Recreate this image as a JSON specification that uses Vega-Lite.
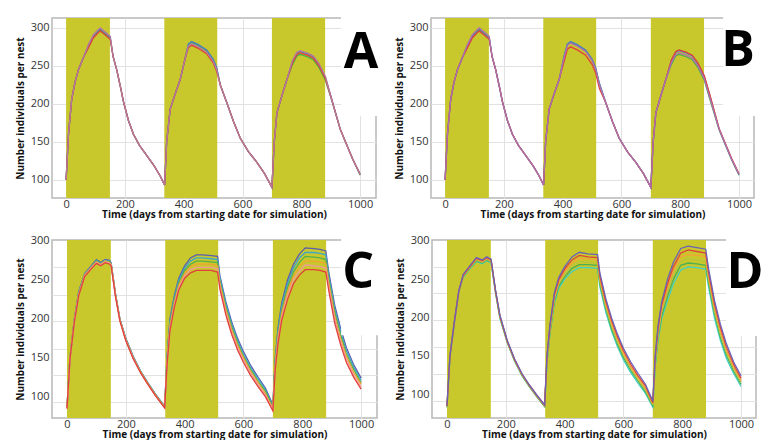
{
"$schema": "https://vega.github.io/schema/vega-lite/v6.json",
"padding": {"left": 14, "top": 15, "right": 0, "bottom": 0},
"config": {
 "font": "Open Sans",
 "view": {"stroke": "#b8b8b8", "strokeWidth": 1.5},
 "axis": {"grid": true, "gridColor": "#e2e2e2", "gridWidth": 1, "ticks": false, "domain": false, "labelFontSize": 11, "labelColor": "#333333", "titleFontSize": 10, "titleFontWeight": "bold", "titleColor": "#111111", "labelPadding": 3},
 "axisX": {"titlePadding": 0, "labelPadding": 0, "format": "d"},
 "axisY": {"titlePadding": 5}
},
"datasets": {
 "shade": [{"start": 0, "end": 149}, {"start": 334, "end": 514}, {"start": 700, "end": 881}],
 "A": [
  {"x":0,"g":100,"b":100,"r":100,"m":100},{"x":8,"g":160,"b":160,"r":160,"m":160},{"x":19,"g":206,"b":206,"r":206,"m":206},{"x":30,"g":228,"b":228,"r":228,"m":228},{"x":42,"g":245,"b":245,"r":245,"m":245},{"x":60,"g":262,"b":262,"r":262,"m":262},
  {"x":76,"g":275,"b":277,"r":274,"m":278},{"x":93,"g":288,"b":290,"r":287,"m":291},{"x":110,"g":295,"b":297,"r":294,"m":298},{"x":116,"g":297,"b":299,"r":296,"m":300},{"x":135,"g":291,"b":293,"r":290,"m":294},{"x":150,"g":286,"b":288,"r":285,"m":289},
  {"x":160,"g":262,"b":262,"r":262,"m":262},{"x":172,"g":245,"b":245,"r":245,"m":245},{"x":185,"g":222,"b":222,"r":222,"m":222},{"x":195,"g":203,"b":203,"r":203,"m":203},{"x":212,"g":178,"b":178,"r":178,"m":178},{"x":229,"g":160,"b":160,"r":160,"m":160},{"x":250,"g":145,"b":145,"r":145,"m":145},{"x":274,"g":132,"b":132,"r":132,"m":132},{"x":300,"g":118,"b":118,"r":118,"m":118},{"x":320,"g":105,"b":105,"r":105,"m":105},{"x":335,"g":93,"b":93,"r":93,"m":93},
  {"x":342,"g":150,"b":150,"r":150,"m":150},{"x":354,"g":193,"b":193,"r":193,"m":193},{"x":370,"g":212,"b":212,"r":212,"m":212},{"x":388,"g":232,"b":232,"r":232,"m":232},{"x":405,"g":260,"b":260,"r":260,"m":260},
  {"x":416,"g":278,"b":279,"r":274,"m":276},{"x":427,"g":281,"b":282,"r":277,"m":279},{"x":450,"g":277,"b":278,"r":273,"m":275},{"x":478,"g":270,"b":271,"r":266,"m":268},{"x":500,"g":258,"b":259,"r":254,"m":256},{"x":512,"g":247,"b":248,"r":243,"m":245},
  {"x":525,"g":224,"b":224,"r":224,"m":224},{"x":546,"g":202,"b":202,"r":202,"m":202},{"x":570,"g":176,"b":176,"r":176,"m":176},{"x":592,"g":155,"b":155,"r":155,"m":155},{"x":620,"g":137,"b":137,"r":137,"m":137},{"x":649,"g":123,"b":123,"r":123,"m":123},{"x":675,"g":108,"b":108,"r":108,"m":108},{"x":700,"g":90,"b":90,"r":90,"m":90},
  {"x":708,"g":150,"b":150,"r":150,"m":150},{"x":717,"g":188,"b":188,"r":188,"m":188},{"x":735,"g":212,"b":212,"r":212,"m":212},{"x":751,"g":232,"b":232,"r":232,"m":232},
  {"x":770,"g":252,"b":256,"r":254,"m":257},{"x":785,"g":263,"b":267,"r":265,"m":268},{"x":796,"g":265,"b":269,"r":267,"m":270},{"x":820,"g":262,"b":266,"r":264,"m":267},{"x":841,"g":258,"b":262,"r":260,"m":263},{"x":860,"g":248,"b":252,"r":250,"m":253},{"x":882,"g":231,"b":235,"r":233,"m":236},
  {"x":900,"g":209,"b":211,"r":210,"m":210},{"x":932,"g":167,"b":167,"r":167,"m":167},{"x":950,"g":150,"b":150,"r":150,"m":150},{"x":975,"g":127,"b":127,"r":127,"m":127},{"x":1000,"g":106,"b":108,"r":107,"m":107}
 ],
 "B": [
  {"x":0,"g":100,"b":100,"r":100,"m":100},{"x":8,"g":160,"b":160,"r":160,"m":160},{"x":19,"g":206,"b":206,"r":206,"m":206},{"x":30,"g":228,"b":228,"r":228,"m":228},{"x":42,"g":245,"b":245,"r":245,"m":245},{"x":60,"g":262,"b":262,"r":262,"m":262},
  {"x":76,"g":277,"b":275,"r":274,"m":278},{"x":93,"g":290,"b":288,"r":287,"m":291},{"x":110,"g":297,"b":295,"r":294,"m":298},{"x":116,"g":299,"b":297,"r":296,"m":300},{"x":135,"g":293,"b":291,"r":290,"m":294},{"x":150,"g":288,"b":286,"r":285,"m":289},
  {"x":160,"g":262,"b":262,"r":262,"m":262},{"x":172,"g":245,"b":245,"r":245,"m":245},{"x":185,"g":222,"b":222,"r":222,"m":222},{"x":195,"g":203,"b":203,"r":203,"m":203},{"x":212,"g":178,"b":178,"r":178,"m":178},{"x":229,"g":160,"b":160,"r":160,"m":160},{"x":250,"g":145,"b":145,"r":145,"m":145},{"x":274,"g":132,"b":132,"r":132,"m":132},{"x":300,"g":118,"b":118,"r":118,"m":118},{"x":320,"g":105,"b":105,"r":105,"m":105},{"x":335,"g":93,"b":93,"r":93,"m":93},
  {"x":342,"g":150,"b":150,"r":150,"m":150},{"x":354,"g":193,"b":193,"r":193,"m":193},{"x":370,"g":212,"b":212,"r":212,"m":212},{"x":388,"g":232,"b":232,"r":232,"m":232},{"x":405,"g":262,"b":263,"r":256,"m":261},
  {"x":416,"g":278,"b":279,"r":272,"m":277},{"x":427,"g":281,"b":282,"r":275,"m":280},{"x":450,"g":277,"b":278,"r":271,"m":276},{"x":478,"g":270,"b":271,"r":264,"m":269},{"x":500,"g":258,"b":259,"r":252,"m":257},{"x":512,"g":247,"b":248,"r":241,"m":246},
  {"x":525,"g":226,"b":227,"r":220,"m":225},{"x":546,"g":202,"b":202,"r":202,"m":202},{"x":570,"g":176,"b":176,"r":176,"m":176},{"x":592,"g":155,"b":155,"r":155,"m":155},{"x":620,"g":137,"b":137,"r":137,"m":137},{"x":649,"g":123,"b":123,"r":123,"m":123},{"x":675,"g":108,"b":108,"r":108,"m":108},{"x":700,"g":90,"b":90,"r":90,"m":90},
  {"x":708,"g":150,"b":150,"r":150,"m":150},{"x":717,"g":188,"b":188,"r":188,"m":188},{"x":735,"g":212,"b":212,"r":212,"m":212},{"x":751,"g":232,"b":232,"r":232,"m":232},
  {"x":770,"g":252,"b":257,"r":258,"m":254},{"x":785,"g":263,"b":268,"r":269,"m":265},{"x":796,"g":265,"b":270,"r":271,"m":267},{"x":820,"g":262,"b":267,"r":268,"m":264},{"x":841,"g":258,"b":263,"r":264,"m":260},{"x":860,"g":248,"b":253,"r":254,"m":250},{"x":882,"g":231,"b":236,"r":237,"m":233},
  {"x":900,"g":207,"b":212,"r":213,"m":209},{"x":932,"g":166,"b":167,"r":168,"m":167},{"x":950,"g":149,"b":150,"r":151,"m":150},{"x":975,"g":126,"b":127,"r":128,"m":127},{"x":1000,"g":106,"b":107,"r":108,"m":107}
 ],
 "C": [
  {"x":0,"s0":87,"s1":87,"s2":86,"s3":86,"s4":85,"s5":85},{"x":10,"s0":150,"s1":150,"s2":149,"s3":149,"s4":148,"s5":148},{"x":25,"s0":200,"s1":199,"s2":198,"s3":198,"s4":197,"s5":196},{"x":40,"s0":235,"s1":234,"s2":233,"s3":232,"s4":231,"s5":230},{"x":60,"s0":258,"s1":257,"s2":256,"s3":256,"s4":255,"s5":254},{"x":80,"s0":267,"s1":266,"s2":265,"s3":265,"s4":264,"s5":263},{"x":100,"s0":276,"s1":275,"s2":274,"s3":273,"s4":272,"s5":271},{"x":115,"s0":272,"s1":271,"s2":270,"s3":270,"s4":269,"s5":268},{"x":130,"s0":276,"s1":275,"s2":274,"s3":274,"s4":273,"s5":272},{"x":145,"s0":275,"s1":274,"s2":273,"s3":272,"s4":271,"s5":270},{"x":150,"s0":272,"s1":271,"s2":270,"s3":270,"s4":269,"s5":268},
  {"x":165,"s0":232,"s1":231,"s2":230,"s3":230,"s4":229,"s5":228},{"x":180,"s0":200,"s1":199,"s2":199,"s3":198,"s4":198,"s5":197},{"x":200,"s0":175,"s1":174,"s2":174,"s3":173,"s4":173,"s5":172},{"x":225,"s0":152,"s1":151,"s2":151,"s3":150,"s4":150,"s5":149},{"x":250,"s0":133,"s1":133,"s2":132,"s3":132,"s4":131,"s5":131},{"x":275,"s0":118,"s1":118,"s2":117,"s3":117,"s4":116,"s5":116},{"x":300,"s0":104,"s1":104,"s2":103,"s3":103,"s4":102,"s5":102},{"x":332,"s0":88,"s1":88,"s2":87,"s3":87,"s4":86,"s5":86},
  {"x":340,"s0":150,"s1":148,"s2":146,"s3":144,"s4":142,"s5":140},{"x":350,"s0":200,"s1":197,"s2":194,"s3":191,"s4":188,"s5":185},{"x":365,"s0":230,"s1":227,"s2":224,"s3":221,"s4":218,"s5":215},{"x":380,"s0":252,"s1":249,"s2":246,"s3":243,"s4":240,"s5":237},{"x":400,"s0":268,"s1":265,"s2":262,"s3":258,"s4":255,"s5":252},{"x":420,"s0":278,"s1":274,"s2":270,"s3":267,"s4":263,"s5":259},{"x":440,"s0":282,"s1":278,"s2":274,"s3":270,"s4":266,"s5":262},{"x":460,"s0":282,"s1":278,"s2":274,"s3":270,"s4":266,"s5":262},{"x":490,"s0":281,"s1":277,"s2":273,"s3":270,"s4":266,"s5":262},{"x":512,"s0":280,"s1":276,"s2":272,"s3":268,"s4":264,"s5":260},
  {"x":520,"s0":255,"s1":252,"s2":248,"s3":245,"s4":241,"s5":238},{"x":540,"s0":222,"s1":219,"s2":215,"s3":212,"s4":208,"s5":205},{"x":560,"s0":196,"s1":193,"s2":190,"s3":186,"s4":183,"s5":180},{"x":580,"s0":175,"s1":172,"s2":169,"s3":166,"s4":163,"s5":160},{"x":600,"s0":158,"s1":155,"s2":152,"s3":150,"s4":147,"s5":144},{"x":625,"s0":140,"s1":137,"s2":135,"s3":132,"s4":130,"s5":127},{"x":650,"s0":125,"s1":123,"s2":120,"s3":118,"s4":115,"s5":113},{"x":675,"s0":111,"s1":109,"s2":107,"s3":104,"s4":102,"s5":100},{"x":700,"s0":90,"s1":88,"s2":87,"s3":85,"s4":84,"s5":82},
  {"x":708,"s0":150,"s1":147,"s2":144,"s3":141,"s4":138,"s5":135},{"x":718,"s0":190,"s1":186,"s2":182,"s3":178,"s4":174,"s5":170},{"x":730,"s0":220,"s1":216,"s2":211,"s3":207,"s4":202,"s5":198},{"x":750,"s0":250,"s1":245,"s2":240,"s3":235,"s4":230,"s5":225},{"x":770,"s0":270,"s1":265,"s2":260,"s3":255,"s4":250,"s5":245},{"x":790,"s0":283,"s1":278,"s2":272,"s3":267,"s4":261,"s5":256},{"x":810,"s0":291,"s1":285,"s2":280,"s3":274,"s4":269,"s5":263},{"x":840,"s0":290,"s1":285,"s2":279,"s3":274,"s4":268,"s5":263},{"x":860,"s0":289,"s1":284,"s2":278,"s3":273,"s4":267,"s5":262},{"x":880,"s0":287,"s1":282,"s2":276,"s3":271,"s4":265,"s5":260},
  {"x":890,"s0":260,"s1":255,"s2":250,"s3":246,"s4":241,"s5":236},{"x":910,"s0":218,"s1":213,"s2":209,"s3":204,"s4":200,"s5":195},{"x":930,"s0":188,"s1":184,"s2":180,"s3":175,"s4":171,"s5":167},{"x":950,"s0":163,"s1":159,"s2":155,"s3":152,"s4":148,"s5":144},{"x":975,"s0":141,"s1":138,"s2":135,"s3":131,"s4":128,"s5":125},{"x":1000,"s0":124,"s1":121,"s2":118,"s3":116,"s4":113,"s5":110}
 ],
 "D": [
  {"x":0,"s0":85,"s1":85,"s2":84,"s3":84,"s4":83,"s5":83},{"x":10,"s0":150,"s1":150,"s2":149,"s3":149,"s4":148,"s5":148},{"x":25,"s0":195,"s1":194,"s2":194,"s3":193,"s4":193,"s5":192},{"x":40,"s0":235,"s1":234,"s2":234,"s3":233,"s4":233,"s5":232},{"x":55,"s0":256,"s1":255,"s2":254,"s3":254,"s4":253,"s5":252},{"x":75,"s0":266,"s1":265,"s2":264,"s3":264,"s4":263,"s5":262},{"x":100,"s0":278,"s1":277,"s2":276,"s3":275,"s4":274,"s5":273},{"x":120,"s0":275,"s1":274,"s2":273,"s3":272,"s4":271,"s5":270},{"x":135,"s0":279,"s1":278,"s2":277,"s3":276,"s4":275,"s5":274},{"x":150,"s0":276,"s1":275,"s2":274,"s3":273,"s4":272,"s5":271},
  {"x":165,"s0":236,"s1":235,"s2":234,"s3":234,"s4":233,"s5":232},{"x":180,"s0":203,"s1":202,"s2":201,"s3":201,"s4":200,"s5":199},{"x":205,"s0":170,"s1":169,"s2":169,"s3":168,"s4":168,"s5":167},{"x":230,"s0":146,"s1":145,"s2":145,"s3":144,"s4":144,"s5":143},{"x":255,"s0":127,"s1":126,"s2":126,"s3":125,"s4":125,"s5":124},{"x":280,"s0":112,"s1":112,"s2":111,"s3":111,"s4":110,"s5":110},{"x":305,"s0":99,"s1":99,"s2":98,"s3":98,"s4":97,"s5":97},{"x":332,"s0":86,"s1":86,"s2":85,"s3":85,"s4":84,"s5":84},
  {"x":340,"s0":150,"s1":148,"s2":146,"s3":144,"s4":142,"s5":140},{"x":350,"s0":190,"s1":188,"s2":185,"s3":183,"s4":180,"s5":178},{"x":365,"s0":232,"s1":229,"s2":226,"s3":224,"s4":221,"s5":218},{"x":380,"s0":252,"s1":249,"s2":246,"s3":244,"s4":241,"s5":238},{"x":400,"s0":266,"s1":263,"s2":260,"s3":256,"s4":253,"s5":250},{"x":425,"s0":279,"s1":275,"s2":271,"s3":268,"s4":264,"s5":260},{"x":450,"s0":285,"s1":281,"s2":277,"s3":273,"s4":269,"s5":265},{"x":480,"s0":283,"s1":279,"s2":276,"s3":272,"s4":269,"s5":265},{"x":512,"s0":282,"s1":278,"s2":275,"s3":271,"s4":268,"s5":264},
  {"x":520,"s0":258,"s1":254,"s2":251,"s3":247,"s4":244,"s5":240},{"x":540,"s0":225,"s1":221,"s2":218,"s3":214,"s4":211,"s5":207},{"x":560,"s0":199,"s1":196,"s2":192,"s3":189,"s4":185,"s5":182},{"x":580,"s0":178,"s1":175,"s2":172,"s3":168,"s4":165,"s5":162},{"x":600,"s0":160,"s1":157,"s2":154,"s3":151,"s4":148,"s5":145},{"x":625,"s0":142,"s1":139,"s2":136,"s3":134,"s4":131,"s5":128},{"x":650,"s0":127,"s1":124,"s2":122,"s3":119,"s4":117,"s5":114},{"x":675,"s0":113,"s1":111,"s2":108,"s3":106,"s4":103,"s5":101},{"x":700,"s0":91,"s1":89,"s2":88,"s3":86,"s4":85,"s5":83},
  {"x":708,"s0":150,"s1":147,"s2":144,"s3":141,"s4":138,"s5":135},{"x":718,"s0":190,"s1":186,"s2":182,"s3":178,"s4":174,"s5":170},{"x":730,"s0":220,"s1":216,"s2":211,"s3":207,"s4":202,"s5":198},{"x":750,"s0":250,"s1":244,"s2":239,"s3":233,"s4":228,"s5":222},{"x":770,"s0":272,"s1":266,"s2":261,"s3":255,"s4":250,"s5":244},{"x":795,"s0":290,"s1":284,"s2":279,"s3":273,"s4":268,"s5":262},{"x":820,"s0":293,"s1":288,"s2":282,"s3":277,"s4":271,"s5":266},{"x":850,"s0":291,"s1":286,"s2":281,"s3":275,"s4":270,"s5":265},{"x":880,"s0":289,"s1":284,"s2":279,"s3":273,"s4":268,"s5":263},
  {"x":890,"s0":263,"s1":258,"s2":253,"s3":249,"s4":244,"s5":239},{"x":910,"s0":222,"s1":217,"s2":213,"s3":208,"s4":204,"s5":199},{"x":930,"s0":191,"s1":187,"s2":183,"s3":178,"s4":174,"s5":170},{"x":950,"s0":166,"s1":162,"s2":158,"s3":155,"s4":151,"s5":147},{"x":975,"s0":142,"s1":139,"s2":136,"s3":133,"s4":130,"s5":127},{"x":1000,"s0":124,"s1":121,"s2":118,"s3":116,"s4":113,"s5":110}
 ]
},
"resolve": {"scale": {"color": "independent"}},
"spacing": 14,
"vconcat": [
 {"hconcat": [
  {"width": 324, "height": 180,
   "layer": [
    {"data": {"name": "shade"}, "mark": {"type": "rect", "color": "#c8c82c"},
     "encoding": {"x": {"field": "start", "type": "quantitative", "scale": {"domain": [-48, 1054], "nice": false, "zero": false}, "axis": {"values": [0,200,400,600,800,1000], "title": "Time (days from starting date for simulation)"}}, "x2": {"field": "end"}}},
    {"data": {"name": "A"}, "transform": [{"fold": ["g","b","r","m"], "as": ["run","n"]}],
     "mark": {"type": "line", "strokeWidth": 1.3},
     "encoding": {"x": {"field": "x", "type": "quantitative"}, "y": {"field": "n", "type": "quantitative", "scale": {"domain": [76, 313], "nice": false, "zero": false}, "axis": {"orient": "left", "values": [100,150,200,250,300], "title": "Number individuals per nest"}}, "color": {"field": "run", "type": "nominal", "sort": null, "scale": {"domain": ["g","b","r","m"], "range": ["#3cb44b","#4a7fc1","#e0413a","#b9789c"]}, "legend": null}}},
    {"data": {"values": [{}]}, "mark": {"type": "rect", "color": "white"}, "encoding": {"x": {"datum": 935}, "x2": {"datum": 1058}, "y": {"datum": 184}, "y2": {"datum": 315}}},
    {"data": {"values": [{}]}, "mark": {"type": "text", "text": "A", "fontSize": 50, "fontWeight": "bold", "color": "black", "baseline": "middle"}, "encoding": {"x": {"datum": 1003}, "y": {"datum": 267}}}
   ]},
  {"width": 323, "height": 180,
   "layer": [
    {"data": {"name": "shade"}, "mark": {"type": "rect", "color": "#c8c82c"},
     "encoding": {"x": {"field": "start", "type": "quantitative", "scale": {"domain": [-48, 1051], "nice": false, "zero": false}, "axis": {"values": [0,200,400,600,800,1000], "title": "Time (days from starting date for simulation)"}}, "x2": {"field": "end"}}},
    {"data": {"name": "B"}, "transform": [{"fold": ["g","b","r","m"], "as": ["run","n"]}],
     "mark": {"type": "line", "strokeWidth": 1.3},
     "encoding": {"x": {"field": "x", "type": "quantitative"}, "y": {"field": "n", "type": "quantitative", "scale": {"domain": [76, 313], "nice": false, "zero": false}, "axis": {"orient": "left", "values": [100,150,200,250,300], "title": "Number individuals per nest"}}, "color": {"field": "run", "type": "nominal", "sort": null, "scale": {"domain": ["g","b","r","m"], "range": ["#4cae4c","#4a7fc1","#e0413a","#b06fb0"]}, "legend": null}}},
    {"data": {"values": [{}]}, "mark": {"type": "rect", "color": "white"}, "encoding": {"x": {"datum": 946}, "x2": {"datum": 1055}, "y": {"datum": 184}, "y2": {"datum": 315}}},
    {"data": {"values": [{}]}, "mark": {"type": "text", "text": "B", "fontSize": 50, "fontWeight": "bold", "color": "black", "baseline": "middle"}, "encoding": {"x": {"datum": 997}, "y": {"datum": 270}}}
   ]}
 ], "spacing": 55, "bounds": "flush", "resolve": {"scale": {"color": "independent"}}},
 {"hconcat": [
  {"width": 325, "height": 178,
   "resolve": {"axis": {"y": "independent"}},
   "layer": [
    {"data": {"name": "shade"}, "mark": {"type": "rect", "color": "#c8c82c"},
     "encoding": {"x": {"field": "start", "type": "quantitative", "scale": {"domain": [-51, 1054], "nice": false, "zero": false}, "axis": {"values": [0,200,400,600,800,1000], "title": "Time (days from starting date for simulation)"}}, "x2": {"field": "end"}}},
    {"data": {"name": "C"}, "transform": [{"fold": ["s0","s1","s2","s3","s4","s5"], "as": ["run","n"]}],
     "mark": {"type": "line", "strokeWidth": 1.3},
     "encoding": {"x": {"field": "x", "type": "quantitative"}, "y": {"field": "n", "type": "quantitative", "scale": {"domain": [73, 301], "nice": false, "zero": false}, "axis": {"orient": "left", "values": [100,150,200,250,300], "grid": false, "title": "Number individuals per nest"}}, "color": {"field": "run", "type": "nominal", "sort": null, "scale": {"domain": ["s0","s1","s2","s3","s4","s5"], "range": ["#5a5cb0","#3fa7c9","#55b04a","#f0a431","#f09a9a","#e2403a"]}, "legend": null}}},
    {"data": {"values": [{}]}, "mark": {"type": "point", "opacity": 0}, "encoding": {"y": {"datum": 200, "type": "quantitative", "axis": {"orient": "right", "values": [93,128,162,197,231,266], "grid": true, "labels": false, "title": null}}}},
    {"data": {"values": [{}]}, "mark": {"type": "rect", "color": "white"}, "encoding": {"x": {"datum": 932}, "x2": {"datum": 1058}, "y": {"datum": 179, "axis": null}, "y2": {"datum": 303}}},
    {"data": {"values": [{}]}, "mark": {"type": "text", "text": "C", "fontSize": 50, "fontWeight": "bold", "color": "black", "baseline": "middle"}, "encoding": {"x": {"datum": 990}, "y": {"datum": 259, "axis": null}}}
   ]},
  {"width": 324, "height": 178,
   "resolve": {"axis": {"y": "independent"}},
   "layer": [
    {"data": {"name": "shade"}, "mark": {"type": "rect", "color": "#c8c82c"},
     "encoding": {"x": {"field": "start", "type": "quantitative", "scale": {"domain": [-51, 1051], "nice": false, "zero": false}, "axis": {"values": [0,200,400,600,800,1000], "title": "Time (days from starting date for simulation)"}}, "x2": {"field": "end"}}},
    {"data": {"name": "D"}, "transform": [{"fold": ["s5","s4","s3","s2","s1","s0"], "as": ["run","n"]}],
     "mark": {"type": "line", "strokeWidth": 1.3},
     "encoding": {"x": {"field": "x", "type": "quantitative"}, "y": {"field": "n", "type": "quantitative", "scale": {"domain": [69, 301], "nice": false, "zero": false}, "axis": {"orient": "left", "values": [100,150,200,250,300], "grid": false, "title": "Number individuals per nest"}}, "color": {"field": "run", "type": "nominal", "sort": null, "scale": {"domain": ["s0","s1","s2","s3","s4","s5"], "range": ["#6a63b5","#e0433a","#f2a33a","#b8c43c","#4cb050","#3fd0c8"]}, "legend": null}}},
    {"data": {"values": [{}]}, "mark": {"type": "point", "opacity": 0}, "encoding": {"y": {"datum": 200, "type": "quantitative", "axis": {"orient": "right", "values": [91,127,162,197,232,266], "grid": true, "labels": false, "title": null}}}},
    {"data": {"values": [{}]}, "mark": {"type": "rect", "color": "white"}, "encoding": {"x": {"datum": 949}, "x2": {"datum": 1055}, "y": {"datum": 176, "axis": null}, "y2": {"datum": 303}}},
    {"data": {"values": [{}]}, "mark": {"type": "text", "text": "D", "fontSize": 50, "fontWeight": "bold", "color": "black", "baseline": "middle"}, "encoding": {"x": {"datum": 1014}, "y": {"datum": 258, "axis": null}}}
   ]}
 ], "spacing": 55, "bounds": "flush", "resolve": {"scale": {"color": "independent"}}}
]
}
